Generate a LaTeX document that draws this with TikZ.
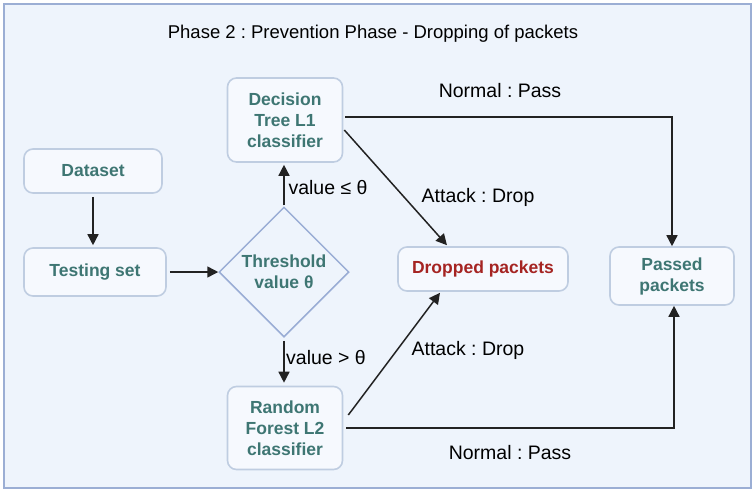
\documentclass[tikz,border=0pt]{standalone}
\usepackage{fontspec}
\setmainfont{Liberation Sans}
\usetikzlibrary{arrows.meta,calc,shapes.geometric}
\frenchspacing
\definecolor{bgc}{HTML}{EEF4FC}
\definecolor{framec}{HTML}{9BAED4}
\definecolor{boxfill}{HTML}{F6F9FE}
\definecolor{boxline}{HTML}{BFCDE1}
\definecolor{tealtxt}{HTML}{3E7673}
\definecolor{redtxt}{HTML}{A52422}
\definecolor{linec}{HTML}{222222}
\definecolor{diamc}{HTML}{9AADD5}
\tikzset{
  stepbox/.style={draw=boxline, line width=1.6pt, fill=boxfill, rounded corners=9pt,
    align=center, inner sep=2pt, text=tealtxt,
    font=\bfseries\fontsize{17.5}{21}\selectfont},
  decis/.style={shape=diamond, draw=diamc, line width=1.5pt, align=center, inner sep=1pt,
    minimum width=130pt, minimum height=130pt, text=tealtxt,
    font=\bfseries\fontsize{17.5}{21}\selectfont},
  lbl/.style={font=\frenchspacing\fontsize{19.5}{22}\selectfont, text=black, inner sep=1pt},
  ttl/.style={font=\frenchspacing\fontsize{18.5}{21}\selectfont, text=black, inner sep=1pt},
  arr/.style={draw=linec, line width=1.5pt, -{Triangle[length=11pt,width=11pt]}}
}
\begin{document}
\begin{tikzpicture}[x=1pt,y=-1pt]
\useasboundingbox (0,0) rectangle (755,491);
\draw[draw=framec, fill=bgc, line width=1.6pt] (4,4) rectangle (751,488);

\node[ttl] (title) at (373,34) {Phase 2 : Prevention Phase - Dropping of packets};

\node[stepbox, minimum width=138pt, minimum height=44pt] (ds) at (93,171) {Dataset};
\node[stepbox, minimum width=142pt, minimum height=48pt] (ts) at (95,272) {Testing set};
\node[stepbox, minimum width=115pt, minimum height=84pt] (dt) at (285,120) {Decision\\Tree L1\\classifier};
\node[stepbox, minimum width=115pt, minimum height=83pt] (rf) at (285,428) {Random\\Forest L2\\classifier};
\node[decis] (th) at (284,272) {Threshold\\value θ};
\node[stepbox, text=redtxt, minimum width=170pt, minimum height=44pt] (dp) at (483,269) {Dropped packets};
\node[stepbox, minimum width=124pt, minimum height=58pt] (pp) at (672,276) {Passed\\packets};

\draw[arr] ($(ds.south)+(0,3)$) -- ($(ts.north)+(-2,-2)$);
\draw[arr] ($(ts.east)+(3,0)$) -- (th.west);
\draw[arr] ($(th.north)+(0,-1)$) -- ($(dt.south)+(-1,2)$);
\draw[arr] ($(th.south)+(0,3)$) -- ($(rf.north)+(-1,-3)$);
\draw[arr] ($(dt.east)+(2,-3)$) -| (pp.north);
\draw[arr] ($(dt.east)+(1,10)$) -- ($(dp.north)+(-36,-1)$);
\draw[arr] ($(rf.east)+(5,-13)$) -- ($(dp.south)+(-43,1)$);
\draw[arr] ($(rf.east)+(3,0)$) -| ($(pp.south)+(2,0)$);

\node[lbl] (l1) at (328,188) {value ≤ θ};
\node[lbl] (l2) at (326,358) {value > θ};
\node[lbl] (l3) at (500,91) {Normal : Pass};
\node[lbl] (l4) at (478,197) {Attack : Drop};
\node[lbl] (l5) at (468,350) {Attack : Drop};
\node[lbl] (l6) at (510,453) {Normal : Pass};
\end{tikzpicture}
\end{document}
